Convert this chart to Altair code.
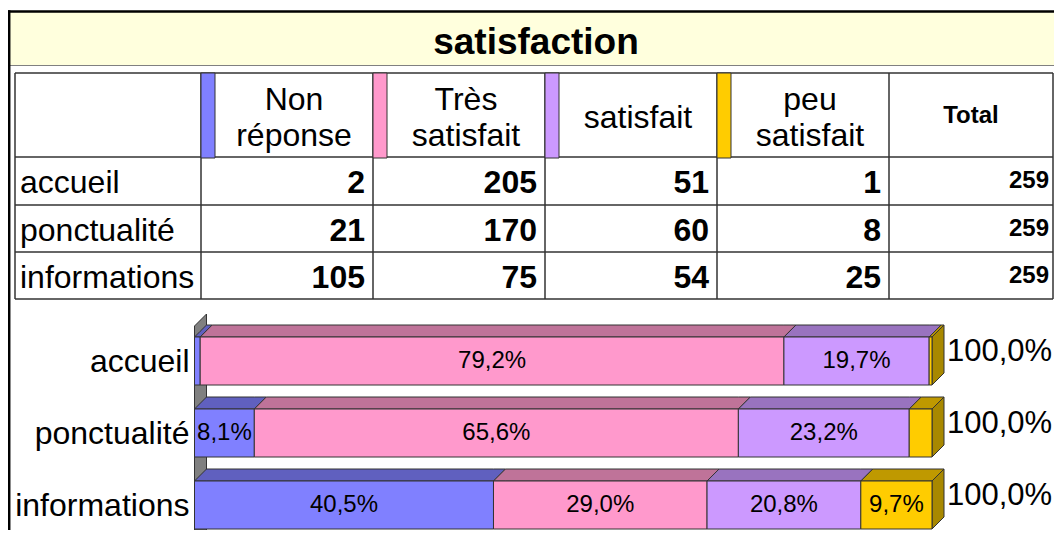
import altair as alt
import pandas as pd

# ---------------- data ----------------
TITLE = "satisfaction"
categories = ["accueil", "ponctualité", "informations"]
series = ["Non réponse", "Très satisfait", "satisfait", "peu satisfait"]
header_labels = ["Non\nréponse", "Très\nsatisfait", "satisfait", "peu\nsatisfait"]
total_header = "Total"
non_reponse = [2, 21, 105]
tres_satisfait = [205, 170, 75]
satisfait = [51, 60, 54]
peu_satisfait = [1, 8, 25]
totals = [259, 259, 259]

values = [non_reponse, tres_satisfait, satisfait, peu_satisfait]

# ---------------- styles / layout ----------------
FONT = "Liberation Sans"
front_colors = ["#8080FF", "#FF99CC", "#CC99FF", "#FFCC00"]
top_colors = ["#6060BF", "#BF7399", "#9973BF", "#BF9900"]
side_color = "#A88800"
edge = "#333333"

W, H = 1046, 522
PX = alt.Scale(domain=[0, W], nice=False, zero=False)
PY = alt.Scale(domain=[0, H], reverse=True, nice=False, zero=False)

P0 = 186.5      # pixel position of 0 %
PPU = 7.375     # pixels per percent
PCT = alt.Scale(domain=[-P0 / PPU, (W - P0) / PPU], nice=False, zero=False)
DX = 12 / PPU   # 3D depth along x (percent units)
DY = 12         # 3D depth along y (pixels)
BAR_TOP0, BAR_PITCH, BAR_H = 329, 72, 48

col_edges = [7, 193, 365, 537, 709, 881, 1045]
row_edges = [65, 149, 197, 244, 291]
STRIP = 14


def fmt(p):
    return f"{p:.1f}%".replace(".", ",")


def X(f, s=PX):
    return alt.X(f, type="quantitative", scale=s, axis=None, stack=None)


def Y(f, s=PY):
    return alt.Y(f, type="quantitative", scale=s, axis=None, stack=None)


layers = []

# ---------------- frame & title band ----------------
band = pd.DataFrame({"x": [2], "x2": [W], "y": [4], "y2": [57]})
layers.append(alt.Chart(band).mark_rect(fill="#FFFFDD").encode(
    x=X("x"), x2="x2", y=Y("y"), y2="y2"))
layers.append(alt.Chart(pd.DataFrame({"y": [57.5], "x": [2], "x2": [W]})).mark_rule(
    color="#808080", strokeWidth=1).encode(y=Y("y"), x=X("x"), x2="x2"))
layers.append(alt.Chart(pd.DataFrame({"y": [3.5], "x": [0], "x2": [W]})).mark_rule(
    color="#000000", strokeWidth=2.5).encode(y=Y("y"), x=X("x"), x2="x2"))
layers.append(alt.Chart(pd.DataFrame({"x": [1.2], "y": [2.3], "y2": [H]})).mark_rule(
    color="#000000", strokeWidth=2.5).encode(x=X("x"), y=Y("y"), y2="y2"))

layers.append(alt.Chart(pd.DataFrame({"t": [TITLE], "x": [528], "y": [46]})).mark_text(
    font=FONT, fontSize=37, fontWeight="bold", align="center", baseline="alphabetic",
    color="#000").encode(x=X("x"), y=Y("y"), text="t:N"))

# ---------------- table ----------------
vlines = pd.DataFrame({"x": col_edges, "y": [row_edges[0]] * len(col_edges),
                       "y2": [row_edges[-1]] * len(col_edges)})
hlines = pd.DataFrame({"y": row_edges, "x": [col_edges[0]] * len(row_edges),
                       "x2": [col_edges[-1]] * len(row_edges)})
layers.append(alt.Chart(vlines).mark_rule(color=edge, strokeWidth=1.5).encode(
    x=X("x"), y=Y("y"), y2="y2"))
layers.append(alt.Chart(hlines).mark_rule(color=edge, strokeWidth=1.5).encode(
    y=Y("y"), x=X("x"), x2="x2"))

strips = pd.DataFrame({
    "x": [col_edges[k + 1] for k in range(4)],
    "x2": [col_edges[k + 1] + STRIP for k in range(4)],
    "y": [row_edges[0]] * 4, "y2": [row_edges[1] + 1] * 4,
    "fill": front_colors,
})
layers.append(alt.Chart(strips).mark_rect(stroke=edge, strokeWidth=1).encode(
    x=X("x"), x2="x2", y=Y("y"), y2="y2", fill=alt.Fill("fill:N", scale=None)))

hdr = []
for k, lab in enumerate(header_labels):
    lines = lab.split("\n")
    cx = (col_edges[k + 1] + STRIP + col_edges[k + 2]) / 2
    ys = [102, 138] if len(lines) == 2 else [120]
    for ln, yy in zip(lines, ys):
        hdr.append({"t": ln, "x": cx, "y": yy})
layers.append(alt.Chart(pd.DataFrame(hdr)).mark_text(
    font=FONT, fontSize=32, align="center", baseline="alphabetic", color="#000").encode(
    x=X("x"), y=Y("y"), text="t:N"))
layers.append(alt.Chart(pd.DataFrame({"t": [total_header], "x": [(col_edges[5] + col_edges[6]) / 2],
                                      "y": [115]})).mark_text(
    font=FONT, fontSize=24, fontWeight="bold", align="center", baseline="alphabetic",
    color="#000").encode(x=X("x"), y=Y("y"), text="t:N"))

row_centers = [(row_edges[i + 1] + row_edges[i + 2]) / 2 for i in range(3)]
rlab = pd.DataFrame({"t": categories, "x": [12] * 3, "y": [c + 12 for c in row_centers]})
layers.append(alt.Chart(rlab).mark_text(
    font=FONT, fontSize=32, align="left", baseline="alphabetic", color="#000").encode(
    x=X("x"), y=Y("y"), text="t:N"))

cells = []
for k in range(4):
    for i in range(3):
        cells.append({"t": str(values[k][i]), "x": col_edges[k + 2] - 8, "y": row_centers[i] + 12})
layers.append(alt.Chart(pd.DataFrame(cells)).mark_text(
    font=FONT, fontSize=32, fontWeight="bold", align="right", baseline="alphabetic",
    color="#000").encode(x=X("x"), y=Y("y"), text="t:N"))
tcells = pd.DataFrame({"t": [str(v) for v in totals], "x": [col_edges[6] - 4] * 3,
                       "y": [c + 7 for c in row_centers]})
layers.append(alt.Chart(tcells).mark_text(
    font=FONT, fontSize=24, fontWeight="bold", align="right", baseline="alphabetic",
    color="#000").encode(x=X("x"), y=Y("y"), text="t:N"))

# ---------------- 3D stacked bars ----------------
wall = pd.DataFrame({"x": [0, DX], "ylo": [H, H], "yhi": [318, 306], "pid": ["w", "w"]})
layers.append(alt.Chart(wall).mark_area(orient="vertical", fill="#808080", stroke=edge,
                                        strokeWidth=1).encode(
    x=X("x", PCT), y=Y("ylo"), y2="yhi", detail="pid:N"))

fronts, tops, sides, inner, ends, ylabs = [], [], [], [], [], []
for i, cat in enumerate(categories):
    tot = sum(v[i] for v in values)
    top = BAR_TOP0 + i * BAR_PITCH
    bot = top + BAR_H
    mid = (top + bot) / 2
    cum = 0.0
    for k, s in enumerate(series):
        pct = values[k][i] / tot * 100
        x0, x1 = cum, cum + pct
        cum = x1
        fronts.append({"x0": x0, "x1": x1, "y0": top, "y1": bot, "fill": front_colors[k]})
        bps = sorted({round(v, 6) for v in (x0, x1, x0 + DX, x1 + DX)})
        for xb in bps:
            lo = top - DY * min(max((xb - x1) / DX, 0.0), 1.0)
            hi = top - DY * min(max((xb - x0) / DX, 0.0), 1.0)
            tops.append({"pid": f"{i}-{k}", "x": xb, "ylo": lo, "yhi": hi,
                         "fill": top_colors[k]})
        if pct >= 5:
            inner.append({"x": (x0 + x1) / 2, "y": mid, "t": fmt(pct)})
    sides.append({"pid": f"s{i}", "x": cum, "ylo": bot, "yhi": top, "fill": side_color})
    sides.append({"pid": f"s{i}", "x": cum + DX, "ylo": bot - DY, "yhi": top - DY,
                  "fill": side_color})
    ends.append({"x": cum, "y": mid, "t": fmt(cum)})
    ylabs.append({"x": 0, "y": mid, "t": cat})

for dfp in (tops, sides):
    layers.append(alt.Chart(pd.DataFrame(dfp)).mark_area(
        orient="vertical", stroke=edge, strokeWidth=1, opacity=1).encode(
        x=X("x", PCT), y=Y("ylo"), y2="yhi", detail="pid:N",
        fill=alt.Fill("fill:N", scale=None)))

layers.append(alt.Chart(pd.DataFrame(fronts)).mark_rect(stroke=edge, strokeWidth=1).encode(
    x=X("x0", PCT), x2="x1", y=Y("y0"), y2="y1", fill=alt.Fill("fill:N", scale=None)))

layers.append(alt.Chart(pd.DataFrame(inner)).mark_text(
    font=FONT, fontSize=24, align="center", baseline="alphabetic", dy=7, color="#000").encode(
    x=X("x", PCT), y=Y("y"), text="t:N"))
layers.append(alt.Chart(pd.DataFrame(ends)).mark_text(
    font=FONT, fontSize=31, align="left", baseline="alphabetic", dx=15, dy=0, color="#000").encode(
    x=X("x", PCT), y=Y("y"), text="t:N"))
layers.append(alt.Chart(pd.DataFrame(ylabs)).mark_text(
    font=FONT, fontSize=32, align="right", baseline="alphabetic", dx=-5, dy=11, color="#000").encode(
    x=X("x", PCT), y=Y("y"), text="t:N"))

chart = alt.layer(*layers).resolve_scale(x="independent", y="independent").properties(
    width=W, height=H, padding=0, background="#FFFFFF",
    autosize=alt.AutoSizeParams(type="none"),
).configure_view(stroke=None)

chart.save("out.html", embed_options={"renderer": "svg", "actions": False})
